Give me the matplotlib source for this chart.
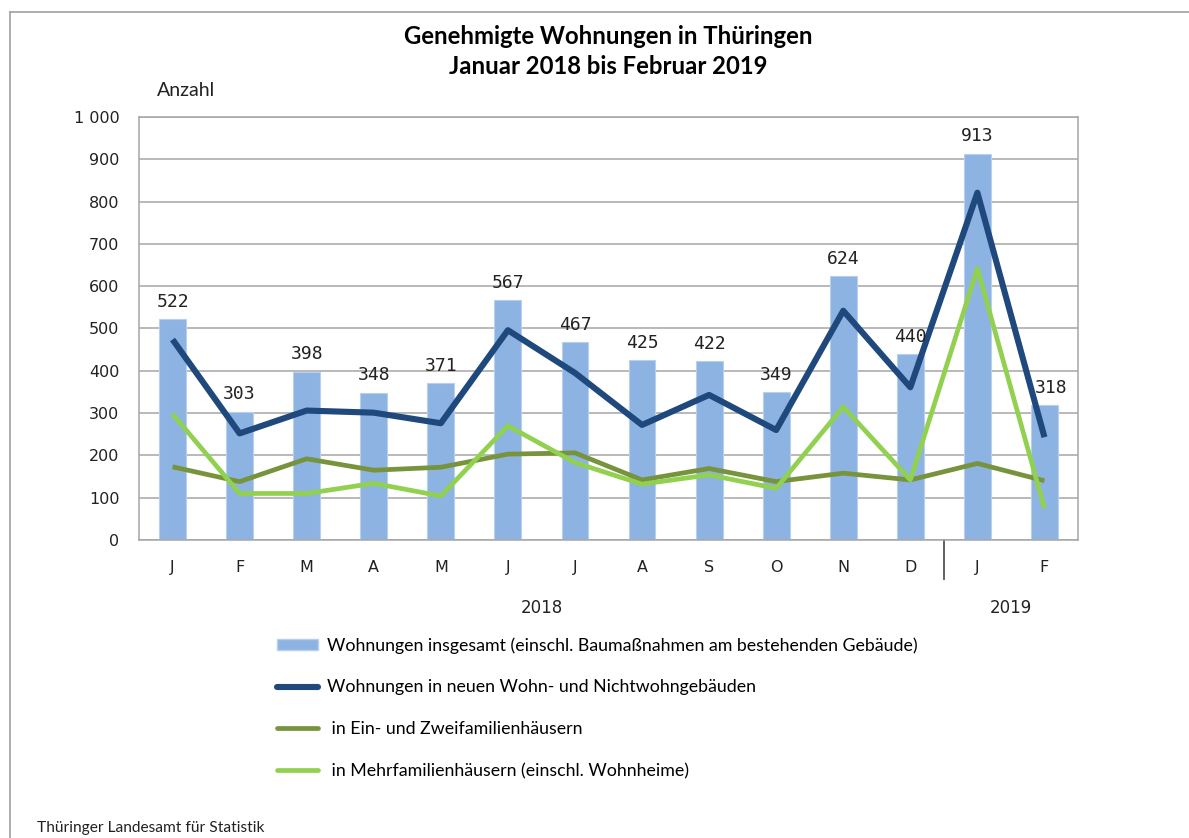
import matplotlib
matplotlib.use("Agg")
import matplotlib.pyplot as plt
import numpy as np
from matplotlib.lines import Line2D
from matplotlib.patches import Patch

# monthly values, Jan 2018 - Feb 2019
months = ["J", "F", "M", "A", "M", "J", "J", "A", "S", "O", "N", "D", "J", "F"]
years = ["2018", "2019"]
total = [522, 303, 398, 348, 371, 567, 467, 425, 422, 349, 624, 440, 913, 318]
new_buildings = [474, 252, 306, 301, 276, 496, 395, 272, 343, 260, 542, 361, 821, 243]
one_two_family = [173, 138, 192, 165, 172, 203, 206, 142, 169, 138, 158, 142, 181, 140]
multi_family = [298, 110, 110, 134, 104, 270, 183, 132, 154, 122, 315, 142, 642, 75]

labels = ["Wohnungen insgesamt (einschl. Baumaßnahmen am bestehenden Gebäude)",
          "Wohnungen in neuen Wohn- und Nichtwohngebäuden",
          " in Ein- und Zweifamilienhäusern",
          " in Mehrfamilienhäusern (einschl. Wohnheime)"]

c_bar = "#8db3e2"
c_new = "#1f497d"
c_one = "#77933c"
c_multi = "#92d050"
c_grid = "#a6a6a6"

W, H = 1189, 838
fig = plt.figure(figsize=(W / 100, H / 100), dpi=100)
ax = fig.add_axes([139 / W, 1 - 540 / H, 939 / W, 423 / H])

x = np.arange(len(months))
ax.bar(x, total, width=0.4, color=c_bar, edgecolor="#b8d0ee", linewidth=0.8, zorder=2)
ax.plot(x, new_buildings, color=c_new, lw=4.4, solid_capstyle="butt", zorder=4)
ax.plot(x, one_two_family, color=c_one, lw=3.4, solid_capstyle="butt", zorder=3)
ax.plot(x, multi_family, color=c_multi, lw=3.4, solid_capstyle="butt", zorder=3)

# last label sits a little to the right so it clears the plot edge
dx = [0] * (len(total) - 1) + [5]
for xi, v, d in zip(x, total, dx):
    ax.annotate(str(v), (xi, v), xytext=(d, 6), textcoords="offset points",
                ha="center", va="bottom", fontsize=13, family="DejaVu Sans Mono",
                color="#222222", zorder=5)

ax.set_xlim(-0.5, len(months) - 0.5)
ax.set_ylim(0, 1000)
ax.set_yticks(np.arange(0, 1001, 100))
ax.set_yticklabels([f"{t:,}".replace(",", " ") for t in range(0, 1001, 100)])
ax.set_xticks(x)
ax.set_xticklabels(months)
ax.tick_params(axis="both", length=0, labelsize=11.5, colors="#222222")
ax.tick_params(axis="x", pad=14.5)
ax.tick_params(axis="y", pad=14)
ax.yaxis.grid(True, color=c_grid, lw=1.1, zorder=0)
ax.set_axisbelow(True)
for s in ax.spines.values():
    s.set_color(c_grid)
    s.set_linewidth(1.1)

# year separator and year labels
ax.plot([11.5, 11.5], [0, -93], color="#555555", lw=1.3, clip_on=False)
ax.text(5.5, -160, years[0], ha="center", va="center", fontsize=12, color="#222222")
ax.text(12.5, -160, years[1], ha="center", va="center", fontsize=12, color="#222222")

fig.text(608 / W, 1 - 37 / H, "Genehmigte Wohnungen in Thüringen", ha="center", va="center",
         fontsize=17.2, fontweight="bold", family="Lato")
fig.text(608 / W, 1 - 67 / H, "Januar 2018 bis Februar 2019", ha="center", va="center",
         fontsize=17.2, fontweight="bold", family="Lato")
fig.text(157 / W, 1 - 90 / H, "Anzahl", ha="left", va="center", fontsize=14, family="Lato",
         color="#222222")
fig.text(37 / W, 1 - 828 / H, "Thüringer Landesamt für Statistik", ha="left", va="center",
         fontsize=11.2, family="Lato", color="#222222")

# outer frame
fig.add_artist(Line2D([10 / W, 1], [1 - 12 / H, 1 - 12 / H], color="#a0a0a0", lw=1.2))
fig.add_artist(Line2D([10 / W, 10 / W], [0, 1 - 12 / H], color="#a0a0a0", lw=1.2))

handles = [Patch(facecolor=c_bar, edgecolor="#b8d0ee"),
           Line2D([], [], color=c_new, lw=4.4, solid_capstyle="round"),
           Line2D([], [], color=c_one, lw=3.4, solid_capstyle="round"),
           Line2D([], [], color=c_multi, lw=3.4, solid_capstyle="round")]
fig.legend(handles, labels, loc="upper left", bbox_to_anchor=(277 / W, 1 - 637 / H),
           frameon=False, borderpad=0, borderaxespad=0, handlelength=2.3, handleheight=0.55,
           handletextpad=0.5, labelspacing=1.45, prop={"family": "Lato", "size": 12.8})

fig.savefig("out.png", dpi=100)
